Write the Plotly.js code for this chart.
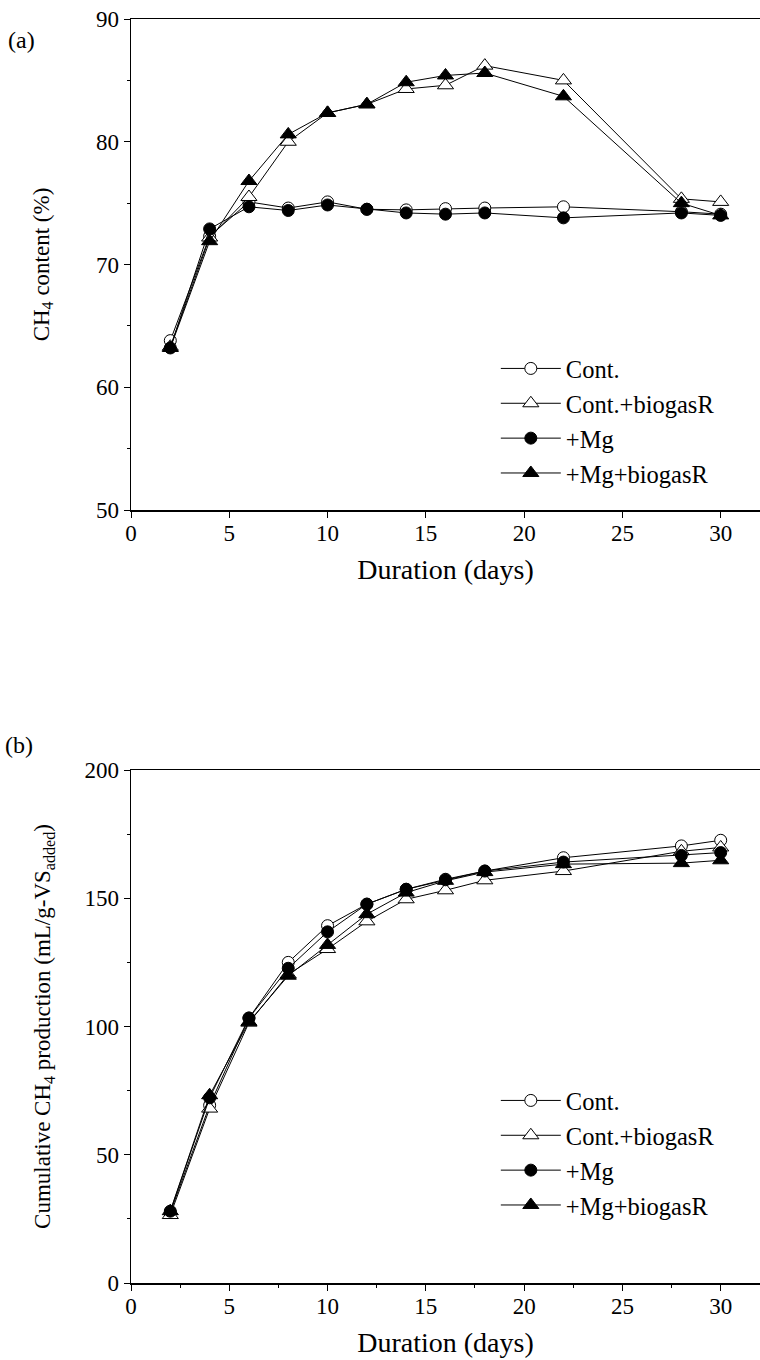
<!DOCTYPE html>
<html>
<head>
<meta charset="utf-8">
<script src="https://cdn.plot.ly/plotly-3.0.1.min.js"></script>
<style>html,body{margin:0;padding:0;background:#fff;}#chart{width:760px;height:1360px;}</style>
</head>
<body>
<div id="chart"></div>
<script>
const days = [2, 4, 6, 8, 10, 12, 14, 16, 18, 22, 28, 30];
const seriesNames = ["Cont.", "Cont.+biogasR", "+Mg", "+Mg+biogasR"];

// (a) CH4 content (%)
const ch4Cont       = [63.8, 72.3, 75.1, 74.6, 75.1, 74.5, 74.45, 74.55, 74.6, 74.7, 74.3, 74.1];
const ch4ContBio    = [63.3, 72.2, 75.5, 80.0, 82.35, 83.05, 84.3, 84.6, 86.2, 85.0, 75.35, 75.1];
const ch4Mg         = [63.2, 72.9, 74.7, 74.4, 74.85, 74.5, 74.2, 74.1, 74.2, 73.8, 74.2, 74.0];
const ch4MgBio      = [63.2, 71.9, 76.8, 80.6, 82.35, 83.05, 84.85, 85.4, 85.6, 83.7, 75.0, 74.0];

// (b) Cumulative CH4 production (mL/g-VS added)
const cumCont       = [27.5, 69.3, 103.3, 125.0, 139.3, 147.7, 153.5, 157.4, 160.6, 165.8, 170.4, 172.6];
const cumContBio    = [26.5, 68.0, 101.5, 120.3, 130.2, 141.0, 149.6, 153.1, 157.0, 160.6, 168.3, 169.8];
const cumMg         = [28.0, 72.2, 103.3, 122.7, 136.9, 147.7, 153.5, 157.2, 160.6, 164.1, 166.7, 167.8];
const cumMgBio      = [28.0, 73.2, 101.8, 119.8, 131.8, 143.8, 152.2, 156.8, 160.2, 163.3, 163.7, 164.8];

const xTickVals = [0, 5, 10, 15, 20, 25, 30];
const yTickValsA = [50, 60, 70, 80, 90];
const yTickValsB = [0, 50, 100, 150, 200];

const FONT = "Liberation Serif, Times New Roman, serif";
const markerStyles = [
  {symbol: "circle", size: 12, color: "#ffffff", line: {color: "#000", width: 1}},
  {symbol: "triangle-up", size: 14, color: "#ffffff", line: {color: "#000", width: 1}},
  {symbol: "circle", size: 12, color: "#000000", line: {color: "#000", width: 1}},
  {symbol: "triangle-up", size: 14, color: "#000000", line: {color: "#000", width: 1}}
];

const dataA = [ch4Cont, ch4ContBio, ch4Mg, ch4MgBio];
const dataB = [cumCont, cumContBio, cumMg, cumMgBio];
const traces = [];
dataA.forEach((ys, i) => traces.push({
  x: days, y: ys, name: seriesNames[i], type: "scatter", mode: "lines+markers",
  xaxis: "x", yaxis: "y", legend: "legend",
  line: {color: "#000", width: 1}, marker: markerStyles[i]
}));
dataB.forEach((ys, i) => traces.push({
  x: days, y: ys, name: seriesNames[i], type: "scatter", mode: "lines+markers",
  xaxis: "x2", yaxis: "y2", legend: "legend2",
  line: {color: "#000", width: 1}, marker: markerStyles[i]
}));

const H = 1360;
function py(p) { return 1 - p / H; }

const TICKFONT = {family: FONT, size: 23, color: "#000"};
const xBase = {
  range: [0, 32], tickvals: xTickVals, ticks: "outside", ticklen: 6, tickwidth: 1,
  tickcolor: "#000", showline: true, linecolor: "#000", linewidth: 1.5, mirror: true,
  showgrid: false, zeroline: false, tickfont: TICKFONT, automargin: false,
  ticklabelstandoff: -4,
  title: {text: "Duration (days)", font: {family: FONT, size: 28, color: "#000"}, standoff: 14}
};
const yBase = {
  ticks: "outside", ticklen: 6, tickwidth: 1, tickcolor: "#000",
  showline: true, linecolor: "#000", linewidth: 1.5, mirror: false, automargin: false,
  showgrid: false, zeroline: false, tickfont: TICKFONT
};

const layout = {
  width: 760, height: 1360,
  margin: {l: 131, r: 0, t: 0, b: 0},
  paper_bgcolor: "#fff", plot_bgcolor: "#fff",
  font: {family: FONT, color: "#000"},
  xaxis: Object.assign({}, xBase, {anchor: "y", domain: [0, 1],
    minor: {ticks: "", showgrid: false}}),
  yaxis: Object.assign({}, yBase, {anchor: "x", domain: [py(510), py(19)], range: [50, 90],
    tickvals: yTickValsA,
    minor: {tickvals: [55, 65, 75, 85], ticks: "outside", ticklen: 3, tickcolor: "#000", showgrid: false},
    title: {text: "CH<sub>4</sub> content (%)", font: {family: FONT, size: 23, color: "#000"}, standoff: 40}}),
  xaxis2: Object.assign({}, xBase, {anchor: "y2", domain: [0, 1],
    minor: {tickvals: [2.5, 7.5, 12.5, 17.5, 22.5, 27.5], ticks: "outside", ticklen: 3, tickcolor: "#000", showgrid: false}}),
  yaxis2: Object.assign({}, yBase, {anchor: "x2", domain: [py(1283), py(770)], range: [0, 200],
    tickvals: yTickValsB,
    minor: {tickvals: [25, 75, 125, 175], ticks: "outside", ticklen: 3, tickcolor: "#000", showgrid: false},
    title: {text: "Cumulative CH<sub>4</sub> production (mL/g-VS<sub>added</sub>)", font: {family: FONT, size: 23, color: "#000"}, standoff: 27}}),
  legend: {x: 0.58, y: py(346), xanchor: "left", yanchor: "top", bgcolor: "rgba(0,0,0,0)",
    font: {family: FONT, size: 24.5, color: "#000"}, itemwidth: 60, tracegroupgap: 0},
  legend2: {x: 0.58, y: py(1078), xanchor: "left", yanchor: "top", bgcolor: "rgba(0,0,0,0)",
    font: {family: FONT, size: 24.5, color: "#000"}, itemwidth: 60, tracegroupgap: 0},
  annotations: [
    {text: "(a)", xref: "paper", yref: "paper", x: -0.198, y: py(40), xanchor: "left", yanchor: "middle",
      showarrow: false, font: {family: FONT, size: 24, color: "#000"}},
    {text: "(b)", xref: "paper", yref: "paper", x: -0.203, y: py(745), xanchor: "left", yanchor: "middle",
      showarrow: false, font: {family: FONT, size: 24, color: "#000"}}
  ]
};

Plotly.newPlot("chart", traces, layout, {displayModeBar: false, staticPlot: true});
</script>
</body>
</html>
